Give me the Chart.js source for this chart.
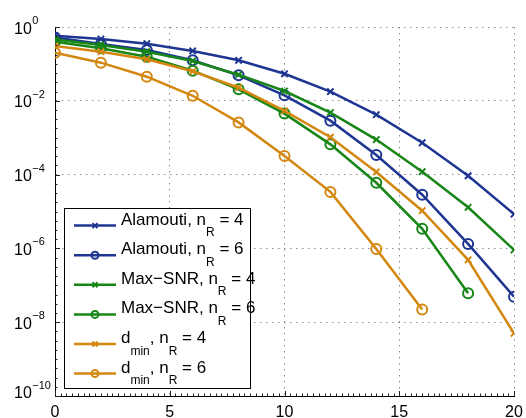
<!DOCTYPE html>
<html>
<head>
<meta charset="utf-8">
<script src="https://cdn.jsdelivr.net/npm/chart.js@4/dist/chart.umd.min.js"></script>
<style>
html, body { margin: 0; padding: 0; background: #fff; }
</style>
</head>
<body>
<canvas id="ber" width="526" height="418"></canvas>
<script>
// SNR points (dB)
const snr = [0, 2, 4, 6, 8, 10, 12, 14, 16, 18, 20];

// BER values
const alamouti4 = [0.58, 0.47, 0.353, 0.224, 0.125, 0.054, 0.0177, 0.0042, 7.3e-4, 9.3e-5, 8.5e-6];
const alamouti6 = [0.52, 0.346, 0.238, 0.125, 0.049, 0.0141, 0.0029, 3.4e-4, 2.85e-5, 1.32e-6, 4.9e-8];
const maxSnr4 = [0.46, 0.325, 0.214, 0.12, 0.051, 0.0184, 0.0048, 8.9e-4, 1.2e-4, 1.3e-5, 9.1e-7];
const maxSnr6 = [0.40, 0.265, 0.157, 0.0655, 0.0205, 0.0045, 6.6e-4, 6.0e-5, 3.4e-6, 6.1e-8];
const dmin4 = [0.305, 0.214, 0.133, 0.063, 0.0226, 0.0053, 0.00103, 1.18e-4, 1.05e-5, 4.9e-7, 5.0e-9];
const dmin6 = [0.20, 0.108, 0.045, 0.0137, 0.0026, 3.2e-4, 3.4e-5, 9.6e-7, 2.2e-8];

const xTicks = [0, 5, 10, 15, 20];
const yTicks = [1e-10, 1e-8, 1e-6, 1e-4, 1e-2, 1];

const BLUE = '#1f3592';
const GREEN = '#178617';
const ORANGE = '#d4870f';

// legend labels with subscripts
const legendItems = [
    { color: BLUE, marker: 'x', parts: [['Alamouti, n'], ['R', 1], [' = 4']] },
    { color: BLUE, marker: 'o', parts: [['Alamouti, n'], ['R', 1], [' = 6']] },
    { color: GREEN, marker: 'x', parts: [['Max\u2212SNR, n'], ['R', 1], [' = 4']] },
    { color: GREEN, marker: 'o', parts: [['Max\u2212SNR, n'], ['R', 1], [' = 6']] },
    { color: ORANGE, marker: 'x', parts: [['d'], ['min', 1], [', n'], ['R', 1], [' = 4']] },
    { color: ORANGE, marker: 'o', parts: [['d'], ['min', 1], [', n'], ['R', 1], [' = 6']] }
];

const FONT = '"Liberation Sans", Arial, sans-serif';

function pts(values) {
    return values.map((v, i) => ({ x: snr[i], y: v }));
}

function series(label, values, color, marker, order) {
    return {
        label: label,
        data: pts(values),
        borderColor: color,
        backgroundColor: color,
        borderWidth: 2.5,
        pointStyle: marker === 'x' ? 'crossRot' : 'circle',
        pointRadius: marker === 'x' ? 4.5 : 5,
        pointBorderWidth: 2,
        pointBorderColor: color,
        pointBackgroundColor: 'rgba(0,0,0,0)',
        tension: 0,
        fill: false,
        order: order
    };
}

function drawMarker(ctx, kind, x, y, r) {
    ctx.beginPath();
    if (kind === 'x') {
        ctx.moveTo(x - r, y - r); ctx.lineTo(x + r, y + r);
        ctx.moveTo(x - r, y + r); ctx.lineTo(x + r, y - r);
    } else {
        ctx.arc(x, y, r, 0, Math.PI * 2);
    }
    ctx.stroke();
}

function drawRich(ctx, parts, x, y, size, subSize, subDrop) {
    let cx = x;
    parts.forEach(p => {
        const sub = p[1] === 1;
        ctx.font = (sub ? subSize : size) + 'px ' + FONT;
        ctx.fillText(p[0], cx, sub ? y + subDrop : y);
        cx += ctx.measureText(p[0]).width;
    });
}

const decor = {
    id: 'decor',
    afterDraw(chart) {
        const ctx = chart.ctx;
        const xs = chart.scales.x;
        const ys = chart.scales.y;
        const area = chart.chartArea;
        ctx.save();

        // inward tick marks
        ctx.strokeStyle = '#222';
        ctx.lineWidth = 1;
        ctx.beginPath();
        for (let v = 0; v <= 20.001; v += 0.25) {
            const px = Math.round(xs.getPixelForValue(v)) + 0.5;
            const len = xTicks.includes(Math.round(v * 100) / 100) ? 5 : 2.5;
            ctx.moveTo(px, area.bottom);
            ctx.lineTo(px, area.bottom - len);
        }
        for (let e = -10; e <= 0.001; e += 0.25) {
            const py = Math.round(ys.getPixelForValue(Math.pow(10, e))) + 0.5;
            const len = (Math.abs(e % 2) < 0.001) ? 5 : 2.5;
            ctx.moveTo(area.left, py);
            ctx.lineTo(area.left + len, py);
        }
        ctx.stroke();

        // tick labels
        ctx.fillStyle = '#000';
        ctx.textBaseline = 'alphabetic';
        ctx.textAlign = 'center';
        ctx.font = '16px ' + FONT;
        xTicks.forEach(v => {
            ctx.fillText(String(v), xs.getPixelForValue(v), 416.5);
        });
        ctx.textAlign = 'left';
        yTicks.forEach(v => {
            const py = ys.getPixelForValue(v);
            const base = v === yTicks[0] ? py + 2 : py + 6.5;
            const exp = Math.round(Math.log10(v));
            ctx.font = '16px ' + FONT;
            ctx.fillText('10', 14, base);
            const w = ctx.measureText('10').width;
            ctx.font = '11px ' + FONT;
            ctx.fillText(exp === 0 ? '0' : '\u2212' + Math.abs(exp), 14 + w + 0.5, base - 9.5);
        });

        // legend box
        const lx = area.left + 9, ly = 208, lw = 186, lh = 180;
        ctx.fillStyle = '#fff';
        ctx.fillRect(lx, ly, lw, lh);
        ctx.strokeStyle = '#000';
        ctx.lineWidth = 1;
        ctx.strokeRect(lx + 0.5, ly + 0.5, lw, lh);

        legendItems.forEach((it, i) => {
            const y = ly + 17.6 + i * 29.6;
            ctx.strokeStyle = it.color;
            ctx.lineWidth = 2.5;
            ctx.beginPath();
            ctx.moveTo(lx + 10, y);
            ctx.lineTo(lx + 52, y);
            ctx.stroke();
            ctx.lineWidth = 2;
            drawMarker(ctx, it.marker, lx + 31, y, it.marker === 'x' ? 2.5 : 3.5);
            ctx.fillStyle = '#000';
            drawRich(ctx, it.parts, lx + 57, y - 1, 17, 12, 11.5);
        });
        ctx.restore();
    }
};

new Chart(document.getElementById('ber'), {
    type: 'line',
    data: {
        datasets: [
            series('Alamouti, nR = 4', alamouti4, BLUE, 'x', 6),
            series('Alamouti, nR = 6', alamouti6, BLUE, 'o', 5),
            series('Max-SNR, nR = 4', maxSnr4, GREEN, 'x', 4),
            series('Max-SNR, nR = 6', maxSnr6, GREEN, 'o', 3),
            series('dmin, nR = 4', dmin4, ORANGE, 'x', 2),
            series('dmin, nR = 6', dmin6, ORANGE, 'o', 1)
        ]
    },
    options: {
        responsive: false,
        devicePixelRatio: 1,
        animation: false,
        layout: { padding: { top: 27, right: 12, left: 0, bottom: 0 } },
        plugins: {
            legend: { display: false },
            tooltip: { enabled: false }
        },
        scales: {
            x: {
                type: 'linear',
                min: 0,
                max: 20,
                afterBuildTicks: s => { s.ticks = xTicks.map(v => ({ value: v })); },
                afterFit: s => { s.height = 22; },
                ticks: { display: false },
                grid: { color: '#8c8c8c', lineWidth: 1, drawTicks: false },
                border: { display: true, color: '#000', width: 1, dash: [1.5, 4.5] }
            },
            y: {
                type: 'logarithmic',
                min: 1e-10,
                max: 1,
                afterBuildTicks: s => { s.ticks = yTicks.map(v => ({ value: v })); },
                afterFit: s => { s.width = 55; },
                ticks: { display: false },
                grid: { color: '#8c8c8c', lineWidth: 1, drawTicks: false },
                border: { display: true, color: '#000', width: 1, dash: [1.5, 4.5] }
            }
        }
    },
    plugins: [decor]
});
</script>
</body>
</html>
